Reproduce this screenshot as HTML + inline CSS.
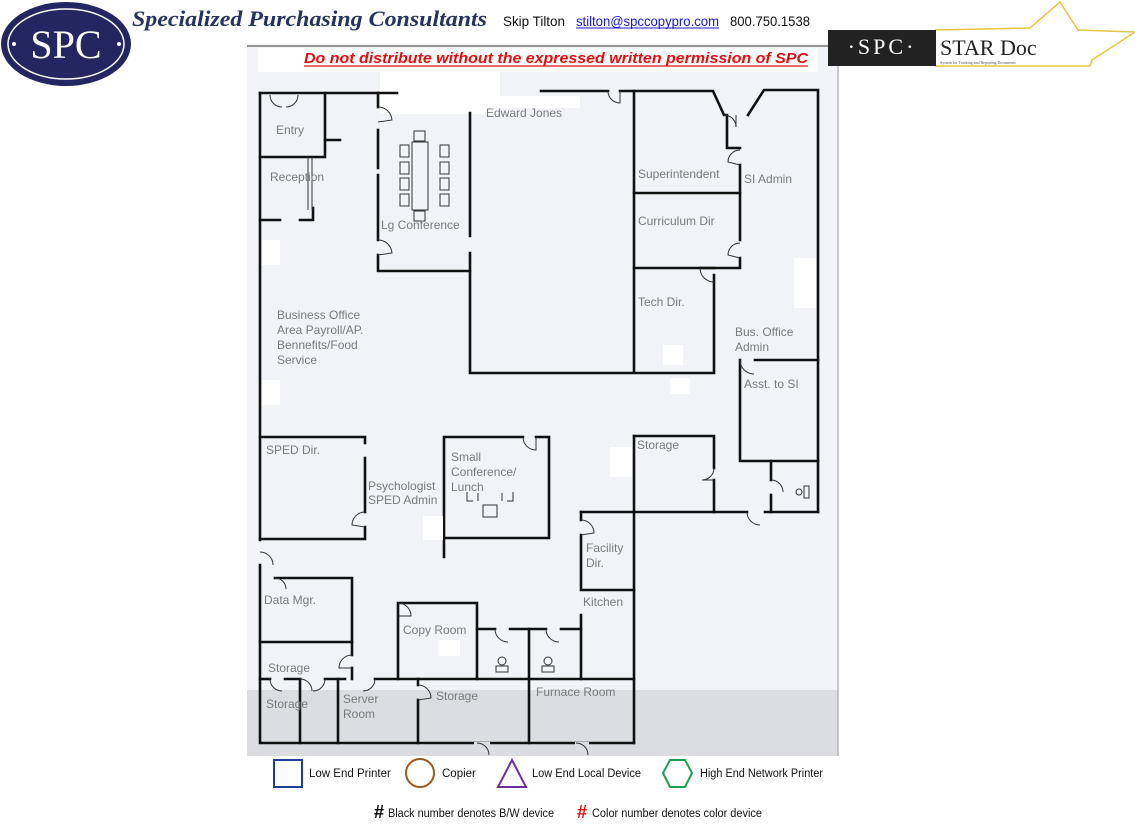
<!DOCTYPE html>
<html><head><meta charset="utf-8"><style>
html,body{margin:0;padding:0;background:#fff;}
svg{display:block;}
.w{stroke:#111;stroke-width:2.6;fill:none;stroke-linecap:square;}
.d{stroke:#333;stroke-width:1;fill:none;}
.l{font-family:"Liberation Sans",sans-serif;font-size:12px;fill:#7a7a7a;}
.g{font-family:"Liberation Sans",sans-serif;font-size:11.5px;fill:#111;}
</style></head><body>
<svg width="1135" height="824" viewBox="0 0 1135 824" xmlns="http://www.w3.org/2000/svg">
<rect x="247" y="44" width="591" height="712" fill="#f1f3f7"/>
<rect x="247" y="690" width="591" height="66" fill="#dcdde1"/>
<line x1="247" y1="46" x2="838" y2="46" stroke="#777" stroke-width="1.5"/>
<line x1="838" y1="46" x2="838" y2="756" stroke="#999" stroke-width="1"/>
<rect x="258" y="48" width="560" height="24" fill="#fff"/>
<rect x="380" y="72" width="120" height="42" fill="#fff"/>
<g class="w">
<polyline points="260,93 260,540"/>
<polyline points="260,565 260,743 634,743"/>
<line x1="260" y1="93" x2="397" y2="93"/>
<polyline points="325,93 325,157 260,157"/>
<line x1="325" y1="140" x2="340" y2="140"/>
<polyline points="260,220 280,220"/><polyline points="300,220 313,220 313,208"/>
<polyline points="378,93 378,107"/><polyline points="378,130 378,168"/><polyline points="378,175 378,240"/><polyline points="378,255 378,271 470,271"/>
<polyline points="470,113 470,236"/><polyline points="470,253 470,373 714,373 714,275"/>
<line x1="541" y1="91" x2="608" y2="91"/>
<polyline points="620,91 713,91 724,115 727,115 727,148 740,148"/>
<polyline points="748,115 764,90 818,90 818,512"/>
<line x1="634" y1="91" x2="634" y2="372"/>
<polyline points="740,165 740,240"/><polyline points="740,258 740,268 634,268"/>
<line x1="634" y1="193" x2="740" y2="193"/>
<line x1="714" y1="268" x2="700" y2="268"/>
<polyline points="755,360 818,360"/>
<polyline points="740,360 740,461 818,461"/>
<polyline points="771,461 771,480"/><polyline points="771,495 771,512"/>
<polyline points="581,512 747,512"/><polyline points="765,512 818,512"/>
<polyline points="634,436 714,436 714,468"/><polyline points="714,480 714,512"/>
<polyline points="634,436 634,743"/>
<polyline points="581,512 581,520"/><polyline points="581,535 581,590 634,590"/>
<polyline points="581,615 581,679"/>
<polyline points="260,437 365,437 365,443"/><polyline points="365,458 365,512"/><polyline points="365,527 365,539 260,539"/>
<polyline points="444,557 444,437 523,437"/><polyline points="536,437 549,437 549,538 444,538"/>
<polyline points="275,578 352,578 352,642 260,642"/><polyline points="352,642 352,655"/><polyline points="352,668 352,679"/>
<polyline points="260,679 270,679"/><polyline points="285,679 300,679"/><polyline points="325,679 345,679"/><polyline points="375,679 634,679"/>
<polyline points="398,679 398,603 477,603 477,679"/>
<polyline points="477,629 495,629"/><polyline points="510,629 546,629"/><polyline points="561,629 581,629"/>
<line x1="529" y1="629" x2="529" y2="743"/>
<line x1="300" y1="679" x2="300" y2="743"/>
<line x1="338" y1="679" x2="338" y2="743"/>
<polyline points="418,679 418,685"/><polyline points="418,700 418,743"/>
</g>
<rect x="474" y="742" width="16" height="3" fill="#dcdde1"/>
<rect x="575" y="742" width="14" height="3" fill="#dcdde1"/>
<g class="d">
<path d="M270,95 A12,12 0 0 0 282,107"/><path d="M298,95 A12,12 0 0 1 286,107"/>
<path d="M378,107 A14,14 0 0 1 392,120 L378,122"/>
<path d="M378,240 A14,14 0 0 1 392,253 L378,255"/>
<path d="M608,91 A12,12 0 0 0 620,103 L620,91"/>
<path d="M724,115 A12,12 0 0 1 736,127 L736,115"/>
<path d="M740,150 A12,12 0 0 0 728,162 L740,165"/>
<path d="M740,243 A12,12 0 0 0 728,255 L740,258"/>
<path d="M700,268 A14,14 0 0 0 714,282"/>
<path d="M740,360 A14,14 0 0 0 754,374"/>
<path d="M365,512 A13,13 0 0 0 352,525 L365,527"/>
<path d="M523,437 A13,13 0 0 0 536,450 L536,437"/>
<path d="M714,468 A12,12 0 0 1 702,480 L714,480"/>
<path d="M771,480 A12,12 0 0 1 783,492"/>
<path d="M747,512 A13,13 0 0 0 760,525"/>
<path d="M581,520 A13,13 0 0 1 594,533 L581,535"/>
<path d="M260,552 A13,13 0 0 1 273,565"/>
<path d="M275,578 A11,11 0 0 1 286,589"/>
<path d="M352,655 A13,13 0 0 0 339,668 L352,668"/>
<path d="M270,679 A12,12 0 0 0 282,691"/><path d="M300,679 A12,12 0 0 1 312,691"/><path d="M325,679 A12,12 0 0 1 313,691"/>
<path d="M375,679 A12,12 0 0 1 363,691"/>
<path d="M398,603 A13,13 0 0 1 411,616 L398,616"/>
<path d="M495,629 A13,13 0 0 0 508,642"/><path d="M546,629 A13,13 0 0 0 559,642"/>
<path d="M418,685 A13,13 0 0 1 431,698 L418,700"/>
<path d="M477,743 A12,12 0 0 1 489,755"/>
<path d="M576,743 A12,12 0 0 1 588,755"/>
<path d="M308,157 L308,210 M312,157 L312,210"/>
<rect x="412" y="142" width="16" height="68"/><rect x="414" y="131" width="11" height="10"/><rect x="414" y="211" width="11" height="10"/>
<rect x="400" y="145" width="9" height="12"/><rect x="400" y="162" width="9" height="12"/><rect x="400" y="178" width="9" height="12"/><rect x="400" y="194" width="9" height="12"/>
<rect x="440" y="145" width="9" height="12"/><rect x="440" y="162" width="9" height="12"/><rect x="440" y="178" width="9" height="12"/><rect x="440" y="194" width="9" height="12"/>
<path d="M467,492 L467,501 L473,501 M513,492 L513,501 L507,501 M478,493 L478,501 M502,493 L502,501"/>
<rect x="483" y="505" width="14" height="12"/>
<circle cx="502" cy="661" r="4"/><rect x="496" y="666" width="12" height="6"/>
<circle cx="548" cy="661" r="4"/><rect x="542" y="666" width="12" height="6"/>
<circle cx="799" cy="492" r="3"/><rect x="804" y="486" width="5" height="12"/>
</g>
<rect x="262" y="240" width="18" height="25" fill="#fff"/>
<rect x="262" y="380" width="18" height="25" fill="#fff"/>
<rect x="794" y="258" width="22" height="50" fill="#fff"/>
<rect x="663" y="345" width="20" height="20" fill="#fff"/>
<rect x="670" y="378" width="20" height="16" fill="#fff"/>
<rect x="610" y="447" width="22" height="30" fill="#fff"/>
<rect x="423" y="516" width="20" height="24" fill="#fff"/>
<rect x="438" y="640" width="22" height="16" fill="#fff"/>
<text class="l" x="276" y="134">Entry</text>
<text class="l" x="270" y="181">Reception</text>
<text class="l" x="381" y="229">Lg Conference</text>
<text class="l" x="486" y="117">Edward Jones</text>
<rect x="480" y="96" width="100" height="12" fill="#fff"/>
<text class="l" x="638" y="178">Superintendent</text>
<text class="l" x="744" y="183">SI Admin</text>
<text class="l" x="638" y="225">Curriculum Dir</text>
<text class="l" x="638" y="306">Tech Dir.</text>
<text class="l" x="277" y="319">Business Office</text>
<text class="l" x="277" y="334">Area Payroll/AP.</text>
<text class="l" x="277" y="349">Bennefits/Food</text>
<text class="l" x="277" y="364">Service</text>
<text class="l" x="735" y="336">Bus. Office</text>
<text class="l" x="735" y="351">Admin</text>
<text class="l" x="744" y="388">Asst. to SI</text>
<text class="l" x="266" y="454">SPED Dir.</text>
<text class="l" x="451" y="461">Small</text>
<text class="l" x="451" y="476">Conference/</text>
<text class="l" x="451" y="491">Lunch</text>
<text class="l" x="368" y="490">Psychologist</text>
<text class="l" x="368" y="504">SPED Admin</text>
<text class="l" x="637" y="449">Storage</text>
<text class="l" x="586" y="552">Facility</text>
<text class="l" x="586" y="567">Dir.</text>
<text class="l" x="583" y="606">Kitchen</text>
<text class="l" x="264" y="604">Data Mgr.</text>
<text class="l" x="403" y="634">Copy Room</text>
<text class="l" x="268" y="672">Storage</text>
<text class="l" x="266" y="708">Storage</text>
<text class="l" x="343" y="703">Server</text>
<text class="l" x="343" y="718">Room</text>
<text class="l" x="436" y="700">Storage</text>
<text class="l" x="536" y="696">Furnace Room</text>
<ellipse cx="66" cy="44" rx="65" ry="42" fill="#232660"/>
<ellipse cx="66" cy="44" rx="58" ry="35" fill="none" stroke="#fff" stroke-width="1.5"/>
<text x="66" y="58" text-anchor="middle" font-family="Liberation Serif,serif" font-size="40" fill="#fff">SPC</text>
<circle cx="14" cy="44" r="2" fill="#fff"/><circle cx="119" cy="44" r="2" fill="#fff"/>
<text x="132" y="26" font-family="Liberation Serif,serif" font-style="italic" font-weight="bold" font-size="22" fill="#25335f" textLength="355" lengthAdjust="spacingAndGlyphs">Specialized Purchasing Consultants</text>
<text x="503" y="26" font-family="Liberation Sans,sans-serif" font-size="14" fill="#111" textLength="62" lengthAdjust="spacingAndGlyphs">Skip Tilton</text>
<text x="576" y="26" font-family="Liberation Sans,sans-serif" font-size="14" fill="#1a1ad0" textLength="143" lengthAdjust="spacingAndGlyphs">stilton@spccopypro.com</text>
<line x1="576" y1="28" x2="719" y2="28" stroke="#1a1ad0" stroke-width="1"/>
<text x="730" y="26" font-family="Liberation Sans,sans-serif" font-size="14" fill="#111" textLength="80" lengthAdjust="spacingAndGlyphs">800.750.1538</text>
<text x="304" y="63" font-family="Liberation Sans,sans-serif" font-style="italic" font-weight="bold" font-size="15" fill="#e01010" textLength="504" lengthAdjust="spacingAndGlyphs">Do not distribute without the expressed written permission of SPC</text>
<line x1="304" y1="66" x2="808" y2="66" stroke="#e01010" stroke-width="1.2"/>
<polyline points="935,30 1030,28 1060,2 1078,30 1135,32 1092,60 1090,66 935,66" fill="none" stroke="#e8c640" stroke-width="1.5"/>
<rect x="828" y="30" width="108" height="36" fill="#222"/>
<text x="882" y="54" text-anchor="middle" font-family="Liberation Serif,serif" font-size="22" fill="#fff" letter-spacing="3">·SPC·</text>
<text x="940" y="55" font-family="Liberation Serif,serif" font-size="22" fill="#222">STAR Doc</text>
<text x="940" y="64" font-family="Liberation Serif,serif" font-size="4" fill="#555">System for Tracking and Reporting Documents</text>
<rect x="274" y="760" width="28" height="27" fill="none" stroke="#1e3f9a" stroke-width="2"/>
<text class="g" x="309" y="777">Low End Printer</text>
<circle cx="420" cy="773" r="14" fill="none" stroke="#9a5a1c" stroke-width="2"/>
<text class="g" x="442" y="777">Copier</text>
<polygon points="512,760 526,787 498,787" fill="none" stroke="#6a30a0" stroke-width="2"/>
<text class="g" x="532" y="777" textLength="109" lengthAdjust="spacingAndGlyphs">Low End Local Device</text>
<polygon points="670,760 685,760 692,773 685,787 670,787 663,773" fill="none" stroke="#1aa050" stroke-width="2"/>
<text class="g" x="700" y="777" textLength="123" lengthAdjust="spacingAndGlyphs">High End Network Printer</text>
<text x="374" y="818" font-family="Liberation Sans,sans-serif" font-weight="bold" font-size="18" fill="#000">#</text>
<text class="g" x="388" y="817" textLength="166" lengthAdjust="spacingAndGlyphs">Black number denotes B/W device</text>
<text x="577" y="818" font-family="Liberation Sans,sans-serif" font-weight="bold" font-size="18" fill="#e01010">#</text>
<text class="g" x="592" y="817" textLength="170" lengthAdjust="spacingAndGlyphs">Color number denotes color device</text>
</svg>
</body></html>
